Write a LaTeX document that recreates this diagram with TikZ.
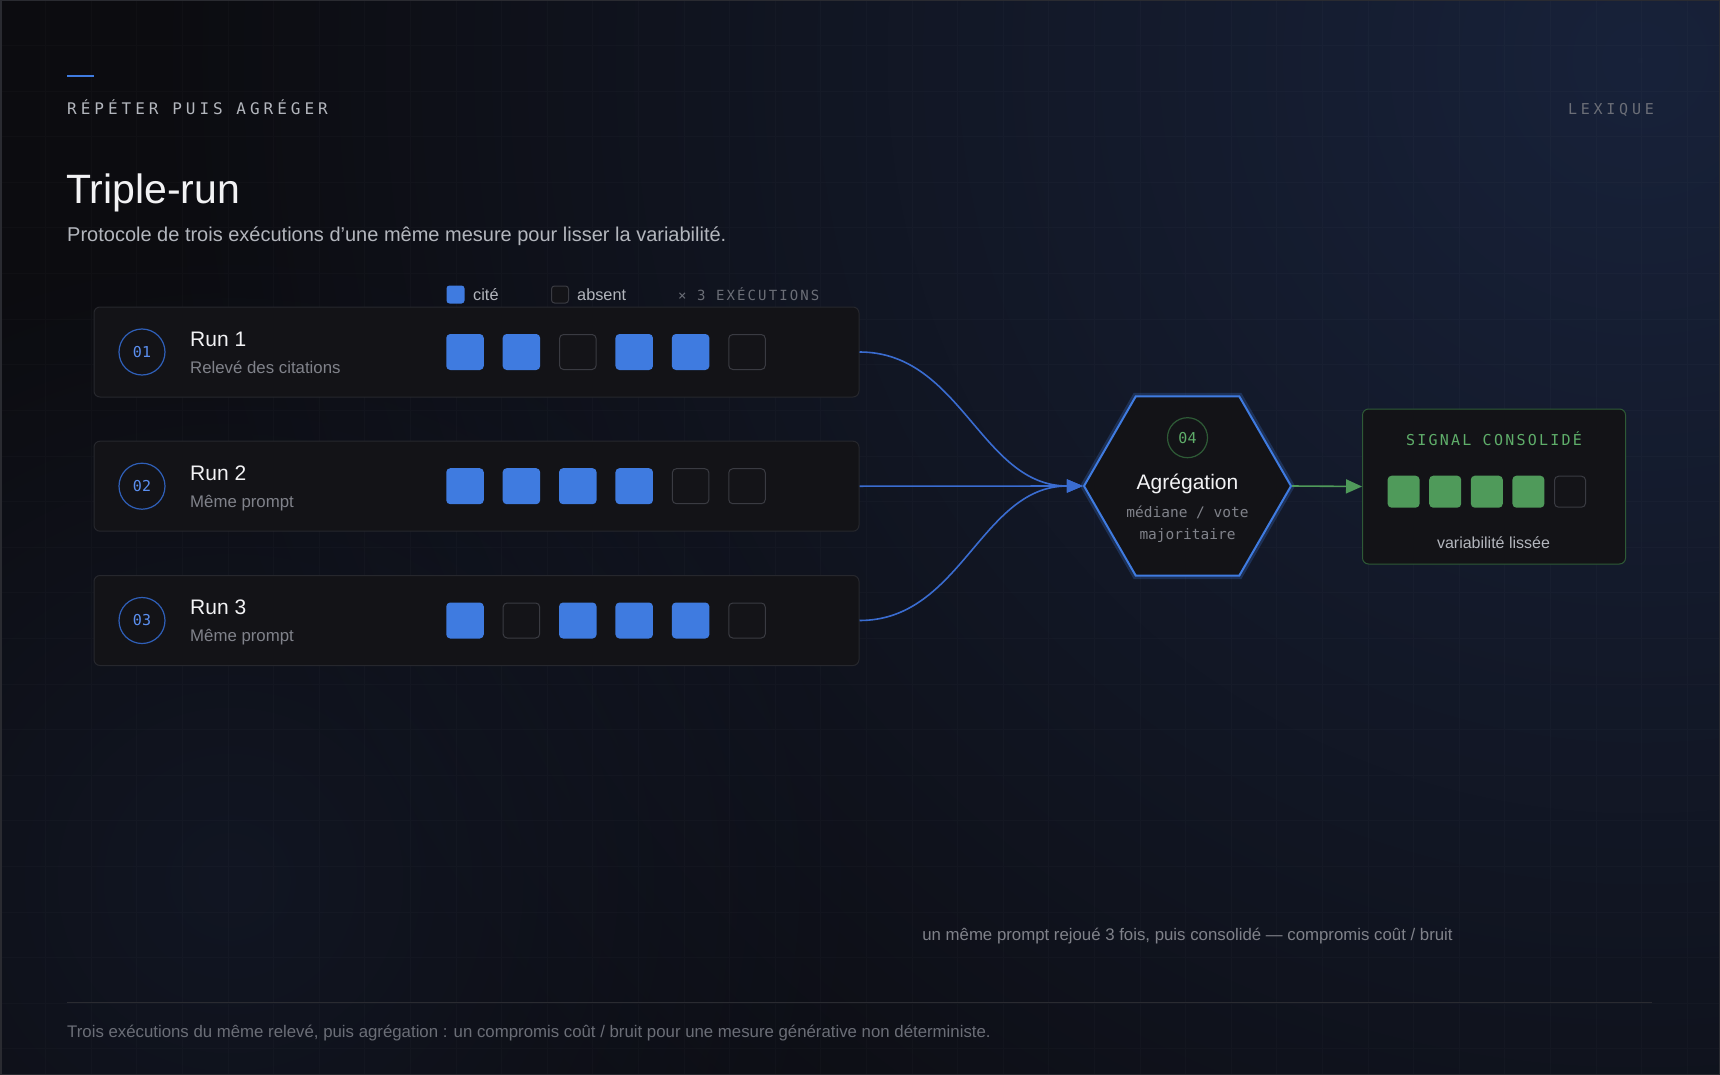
\documentclass[tikz,border=0pt]{standalone}
\usepackage{fontspec}
\setmainfont{Liberation Sans}
\newfontfamily\mono{DejaVu Sans Mono}
\newfontfamily\monoespace[LetterSpace=25]{DejaVu Sans Mono}
\newfontfamily\monolegende[LetterSpace=15]{DejaVu Sans Mono}
\usetikzlibrary{arrows.meta,shapes.geometric,fadings}

\definecolor{fond}{HTML}{0C0C10}
\definecolor{nuit}{HTML}{18223A}
\definecolor{cadre}{HTML}{2A2B31}
\definecolor{cartefond}{HTML}{131317}
\definecolor{cartetrait}{HTML}{26272D}
\definecolor{bleu}{HTML}{3F7BE0}
\definecolor{bleutrait}{HTML}{2F5FB8}
\definecolor{bleutexte}{HTML}{5B8FF0}
\definecolor{bleuflux}{HTML}{3A6CD0}
\definecolor{vert}{HTML}{4F9A5A}
\definecolor{verttexte}{HTML}{5FAE6A}
\definecolor{verttrait}{HTML}{2E5A36}
\definecolor{videfond}{HTML}{141418}
\definecolor{videtrait}{HTML}{3A3B42}
\definecolor{blanc}{HTML}{F2F2F4}
\definecolor{grisclair}{HTML}{B3B6BD}
\definecolor{gris}{HTML}{80828A}
\definecolor{grisfonce}{HTML}{6B6E77}

\tikzfading[name=halo, inner color=transparent!0, outer color=transparent!100]

\tikzset{
  carte/.style={draw=cartetrait, fill=cartefond, line width=1pt, rounded corners=6pt,
    minimum width=765pt, minimum height=90pt, inner sep=0pt},
  pastille/.style={circle, draw=bleutrait, line width=1.2pt, fill=cartefond, minimum size=46pt,
    inner sep=0pt, text=bleutexte, font=\mono\fontsize{15}{18}\selectfont},
  nomrun/.style={anchor=base west, inner sep=0pt, text=blanc, font=\fontsize{21}{25}\selectfont},
  detail/.style={anchor=base west, inner sep=0pt, text=gris, font=\fontsize{16.8}{20}\selectfont},
  cite/.style={rectangle, rounded corners=4pt, fill=bleu, minimum width=37.5pt, minimum height=36pt, inner sep=0pt},
  vide/.style={rectangle, rounded corners=4pt, draw=videtrait, fill=videfond, line width=1pt,
    minimum width=36.5pt, minimum height=35pt, inner sep=0pt},
  consolide/.style={rectangle, rounded corners=4pt, fill=vert, minimum size=32pt, inner sep=0pt},
  flux/.style={draw=bleuflux, line width=1.6pt, -{Triangle[length=16pt,width=13pt]}},
  fluxvert/.style={draw=vert, line width=1.6pt, -{Triangle[length=16pt,width=14pt]}}
}

\begin{document}
\begin{tikzpicture}[x=1pt,y=-1pt]
\useasboundingbox (0,0) rectangle (1720,1075);
% fond, halos et grille
\fill[fond] (0,0) rectangle (1720,1075);
\fill[nuit, path fading=halo] (1640,60) circle (1500);
\fill[nuit, opacity=0.45, path fading=halo] (230,880) circle (650);
\draw[white, opacity=0.02, line width=1pt, step=45.6pt] (0,1075) grid (1720,0);
\draw[cadre, line width=1.5pt] (0.75,0.75) rectangle (1719.25,1074.25);

% en-tete
\draw[bleu, line width=2.5pt] (67,76) -- (94,76);
\node[anchor=base west, inner sep=0pt, text=grisclair, font=\monoespace\fontsize{16}{19}\selectfont] (rubrique) at (67,115) {RÉPÉTER PUIS AGRÉGER};
\node[anchor=base east, inner sep=0pt, text=grisfonce, font=\monoespace\fontsize{15}{18}\selectfont] (lexique) at (1654,115) {LEXIQUE};
\node[anchor=base west, inner sep=0pt, text=blanc, font=\fontsize{41}{49}\selectfont] (titre) at (66,203.5) {Triple-run};
\node[anchor=base west, inner sep=0pt, text=grisclair, font=\fontsize{20}{24}\selectfont] (soustitre) at (67,241.5) {Protocole de trois exécutions d’une même mesure pour lisser la variabilité.};

% legende
\node[rectangle, rounded corners=3pt, fill=bleu, minimum size=18pt, inner sep=0pt] (legcite) at (455.5,294.5) {};
\node[anchor=base west, inner sep=0pt, text=grisclair, font=\fontsize{16.3}{19}\selectfont] (txtcite) at (473,300.5) {cité};
\node[rectangle, rounded corners=3pt, draw=videtrait, fill=videfond, line width=1pt, minimum size=17pt, inner sep=0pt] (legvide) at (560,294.5) {};
\node[anchor=base west, inner sep=0pt, text=grisclair, font=\fontsize{16.3}{19}\selectfont] (txtvide) at (577,300.5) {absent};
\node[anchor=base west, inner sep=0pt, text=grisfonce, font=\monolegende\fontsize{14}{17}\selectfont] (fois) at (678,300.5) {× 3 EXÉCUTIONS};

% les trois executions
\node[carte] (carte1) at (476.5,352) {};
\node[carte] (carte2) at (476.5,486.2) {};
\node[carte] (carte3) at (476.5,620.5) {};

\node[pastille] (num1) at (142,352) {01};
\node[pastille] (num2) at (142,486.2) {02};
\node[pastille] (num3) at (142,620.5) {03};

\node[nomrun] (run1) at (190,346) {Run 1};
\node[detail] (det1) at (190,373.3) {Relevé des citations};
\node[nomrun] (run2) at (190,480.2) {Run 2};
\node[detail] (det2) at (190,507.5) {Même prompt};
\node[nomrun] (run3) at (190,614.5) {Run 3};
\node[detail] (det3) at (190,641.8) {Même prompt};

% run 1 : 1 1 0 1 1 0
\node[cite] (r1a) at (465,352) {};
\node[cite] (r1b) at (521.4,352) {};
\node[vide] (r1c) at (577.8,352) {};
\node[cite] (r1d) at (634.2,352) {};
\node[cite] (r1e) at (690.6,352) {};
\node[vide] (r1f) at (747,352) {};
% run 2 : 1 1 1 1 0 0
\node[cite] (r2a) at (465,486.2) {};
\node[cite] (r2b) at (521.4,486.2) {};
\node[cite] (r2c) at (577.8,486.2) {};
\node[cite] (r2d) at (634.2,486.2) {};
\node[vide] (r2e) at (690.6,486.2) {};
\node[vide] (r2f) at (747,486.2) {};
% run 3 : 1 0 1 1 1 0
\node[cite] (r3a) at (465,620.5) {};
\node[vide] (r3b) at (521.4,620.5) {};
\node[cite] (r3c) at (577.8,620.5) {};
\node[cite] (r3d) at (634.2,620.5) {};
\node[cite] (r3e) at (690.6,620.5) {};
\node[vide] (r3f) at (747,620.5) {};

% agregation
\node[regular polygon, regular polygon sides=6, minimum size=207pt, inner sep=0pt,
  draw=bleu, line width=2pt, fill=cartefond,
  preaction={draw=bleu, line width=7pt, opacity=0.25}] (agg) at (1187.5,486) {};
\node[circle, draw=verttrait, line width=1.2pt, minimum size=40pt, inner sep=0pt,
  text=verttexte, font=\mono\fontsize{15}{18}\selectfont] (num4) at (1187.5,437.7) {04};
\node[anchor=base, inner sep=0pt, text=blanc, font=\fontsize{21}{25}\selectfont] (aggtitre) at (1187.5,489.3) {Agrégation};
\node[anchor=base, inner sep=0pt, text=gris, font=\mono\fontsize{14.5}{17}\selectfont] (aggdet1) at (1187.5,517.7) {médiane / vote};
\node[anchor=base, inner sep=0pt, text=gris, font=\mono\fontsize{14.5}{17}\selectfont] (aggdet2) at (1187.5,539.5) {majoritaire};

\draw[flux] (carte1.east) to[out=0, in=180] (agg.west);
\draw[flux] (carte2.east) to (agg.west);
\draw[flux] (carte3.east) to[out=0, in=180] (agg.west);

% signal consolide
\node[draw=verttrait, fill=cartefond, line width=1pt, rounded corners=6pt,
  minimum width=263pt, minimum height=155pt, inner sep=0pt] (signal) at (1494,486.5) {};
\node[anchor=base, inner sep=0pt, text=verttexte, font=\monolegende\fontsize{15}{18}\selectfont] (sigtitre) at (1494,445.7) {SIGNAL CONSOLIDÉ};
\node[consolide] (s1) at (1403.6,491.7) {};
\node[consolide] (s2) at (1445.2,491.7) {};
\node[consolide] (s3) at (1486.8,491.7) {};
\node[consolide] (s4) at (1528.4,491.7) {};
\node[vide, minimum width=31pt, minimum height=31pt] (s5) at (1570,491.7) {};
\node[anchor=base, inner sep=0pt, text=grisclair, font=\fontsize{16}{19}\selectfont] (sigdet) at (1493.5,548.3) {variabilité lissée};

\draw[fluxvert] (agg.east) -- (signal.west);

% notes
\node[anchor=base, inner sep=0pt, text=gris, font=\fontsize{16.8}{20}\selectfont] (note) at (1187.5,940) {un même prompt rejoué 3 fois, puis consolidé — compromis coût / bruit};
\draw[cadre, line width=1pt] (67,1002) -- (1652,1002);
\node[anchor=base west, inner sep=0pt, text=grisfonce, font=\fontsize{16.8}{20}\selectfont] (pied) at (67,1037.3) {Trois exécutions du même relevé, puis agrégation : un compromis coût / bruit pour une mesure générative non déterministe.};
\end{tikzpicture}
\end{document}
